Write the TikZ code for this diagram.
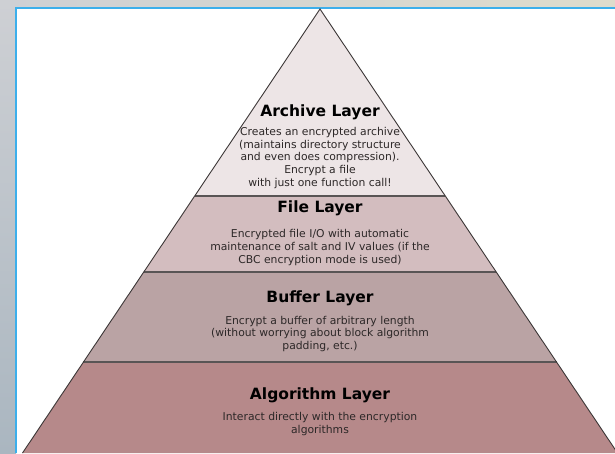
\documentclass[tikz,border=0pt]{standalone}
\usepackage{fontspec}
\setmainfont{DejaVu Sans}
\usetikzlibrary{calc}
\definecolor{panelblue}{RGB}{60,175,235}
\definecolor{bgleft}{RGB}{206,208,212}
\definecolor{bgleftlow}{RGB}{170,182,192}
\definecolor{bgtop}{RGB}{222,220,204}
\definecolor{archivefill}{RGB}{237,229,230}
\definecolor{filefill}{RGB}{211,189,191}
\definecolor{bufferfill}{RGB}{186,163,164}
\definecolor{algofill}{RGB}{182,137,138}
\definecolor{edgegray}{RGB}{60,55,55}
\definecolor{bodygray}{RGB}{45,40,40}
\tikzset{
  layertitle/.style={font=\bfseries\fontsize{15.5}{18}\selectfont, text=black, inner sep=0pt},
  layerbody/.style={font=\fontsize{10.8}{12.9}\selectfont, text=bodygray, align=center, inner sep=0pt},
  sideline/.style={draw=edgegray, line width=0.9pt, line join=miter},
  divider/.style={draw=edgegray!85, line width=1.7pt}
}
\begin{document}
\begin{tikzpicture}[x=1pt,y=-1pt]
\useasboundingbox (0,0) rectangle (615,453);
\clip (0,0) rectangle (615,453);
% background
\shade[top color=bgleft, bottom color=bgleftlow] (0,0) rectangle (16,453);
\shade[left color=bgleft, right color=bgtop] (0,0) rectangle (615,8);
% white panel
\fill[white] (16,8) rectangle (615,453);
\draw[panelblue, line width=1.5pt] (16,453) -- (16,8) -- (615,8);
% pyramid geometry
\coordinate (A) at (320,9);
\coordinate (BL) at (22.5,453);
\coordinate (BR) at (617.5,453);
\coordinate (L1) at ($(A)!0.4212!(BL)$);
\coordinate (R1) at ($(A)!0.4212!(BR)$);
\coordinate (L2) at ($(A)!0.5923!(BL)$);
\coordinate (R2) at ($(A)!0.5923!(BR)$);
\coordinate (L3) at ($(A)!0.7950!(BL)$);
\coordinate (R3) at ($(A)!0.7950!(BR)$);
\fill[archivefill] (A) -- (R1) -- (L1) -- cycle;
\fill[filefill] (L1) -- (R1) -- (R2) -- (L2) -- cycle;
\fill[bufferfill] (L2) -- (R2) -- (R3) -- (L3) -- cycle;
\fill[algofill] (L3) -- (R3) -- (BR) -- (BL) -- cycle;
\draw[divider] (L1) -- (R1);
\draw[divider] (L2) -- (R2);
\draw[divider] (L3) -- (R3);
\draw[sideline] (BL) -- (A) -- (BR);
% texts
\node[layertitle] (archT) at (320,112) {Archive Layer};
\node[layerbody] (archB) at (320,158) {Creates an encrypted archive\\(maintains directory structure\\and even does compression).\\Encrypt a file\\with just one function call!};
\node[layertitle] (fileT) at (320,208) {File Layer};
\node[layerbody] (fileB) at (320,247.5) {Encrypted file I/O with automatic\\maintenance of salt and IV values (if the\\CBC encryption mode is used)};
\node[layertitle] (bufT) at (320,298) {Buffer Layer};
\node[layerbody] (bufB) at (320,334) {Encrypt a buffer of arbitrary length\\(without worrying about block algorithm\\padding, etc.)};
\node[layertitle] (algT) at (320,395) {Algorithm Layer};
\node[layerbody] (algB) at (320,424) {Interact directly with the encryption\\algorithms};
\end{tikzpicture}
\end{document}
